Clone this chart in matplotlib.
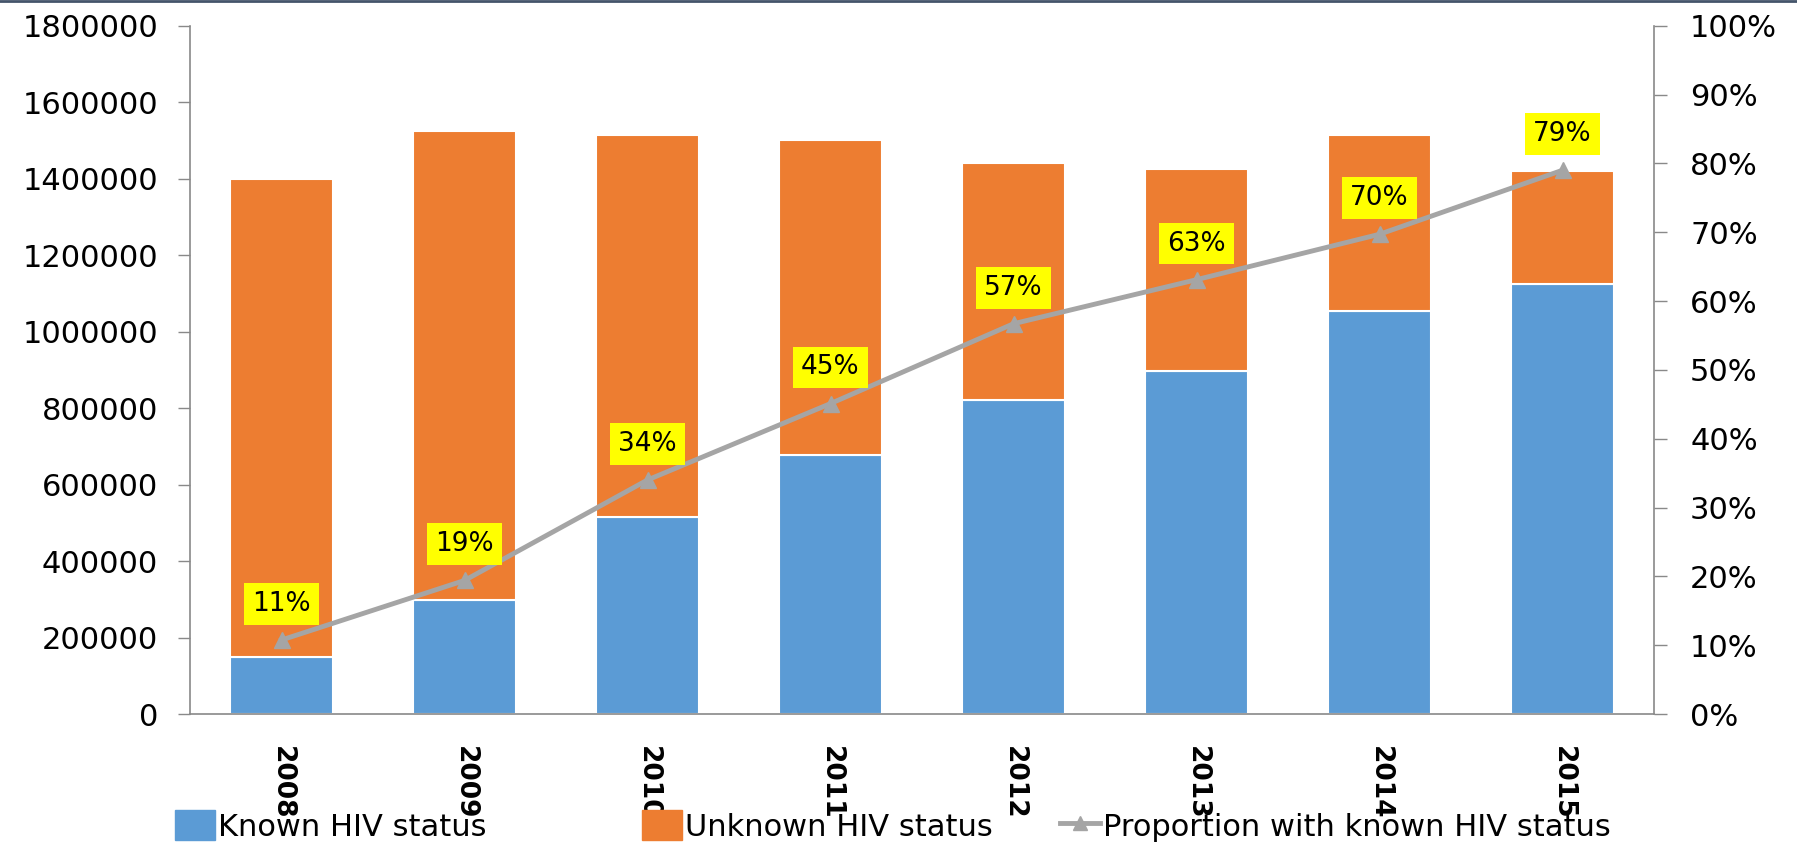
import matplotlib
matplotlib.use("Agg")
import matplotlib.pyplot as plt
from matplotlib.lines import Line2D
import numpy as np

years = ["2008", "2009", "2010", "2011", "2012", "2013", "2014", "2015"]
known = [150000, 297000, 515000, 677000, 820000, 898000, 1055000, 1124000]
unknown = [1250000, 1228000, 1000000, 823000, 621000, 527000, 460000, 296000]
proportion = [0.1075, 0.194, 0.34, 0.451, 0.567, 0.631, 0.697, 0.79]
prop_labels = ["11%", "19%", "34%", "45%", "57%", "63%", "70%", "79%"]

BLUE = "#5B9BD5"
ORANGE = "#ED7D31"
GRAY = "#A5A5A5"
AXC = "#898989"

plt.rcParams['font.family'] = ['DejaVu Sans']

W, H = 1797, 846
fig = plt.figure(figsize=(W / 100, H / 100), dpi=100)
ax = fig.add_axes([190 / W, 1 - 714 / H, (1654 - 190) / W, (714 - 25.7) / H])

x = np.arange(len(years))
ax.bar(x, known, width=0.56, color=BLUE, edgecolor="white", linewidth=1.5,
       label="Known HIV status", zorder=2)
ax.bar(x, unknown, width=0.56, bottom=known, color=ORANGE, edgecolor="white",
       linewidth=1.5, label="Unknown HIV status", zorder=2)

ax.set_xlim(-0.5, len(years) - 0.5)
ax.set_ylim(0, 1800000)
ax.set_yticks(np.arange(0, 1800001, 200000))
ax.set_yticklabels([str(v) for v in range(0, 1800001, 200000)])
ax.set_xticks(x)
ax.set_xticklabels(years, rotation=-90, fontsize=19, fontweight="bold",
                   va="top", ha="center")
ax.tick_params(axis="x", length=0, pad=23)
ax.tick_params(axis="y", length=9, width=1, color=AXC, labelsize=22, pad=14,
               direction="out")
for s in ["top", "right"]:
    ax.spines[s].set_visible(False)
for s in ["left", "bottom"]:
    ax.spines[s].set_color(AXC)
    ax.spines[s].set_linewidth(1.2)

ax2 = ax.twinx()
ax2.plot(x, proportion, color=GRAY, linewidth=3.5, marker="^", markersize=12,
         label="Proportion with known HIV status", zorder=3)
ax2.set_ylim(0, 1.0)
ax2.set_yticks(np.arange(0, 1.01, 0.1))
ax2.set_yticklabels([f"{int(round(v*100))}%" for v in np.arange(0, 1.01, 0.1)])
ax2.tick_params(axis="y", length=9, width=1, color=AXC, labelsize=22, pad=17,
                direction="out")
for s in ["top", "left", "bottom"]:
    ax2.spines[s].set_visible(False)
ax2.spines["right"].set_color(AXC)
ax2.spines["right"].set_linewidth(1.2)

for xi, p, lab in zip(x, proportion, prop_labels):
    ax2.annotate(lab, (xi, p), xytext=(0, 26), textcoords="offset points",
                 ha="center", va="center", fontsize=19,
                 bbox=dict(boxstyle="square,pad=0.3", facecolor="#FFFF00",
                           edgecolor="none"))

handles = [
    plt.Rectangle((0, 0), 1, 1, color=BLUE),
    plt.Rectangle((0, 0), 1, 1, color=ORANGE),
    Line2D([0], [0], color=GRAY, linewidth=3.5, marker="^", markersize=10),
]
labels = ["Known HIV status", "Unknown HIV status",
          "Proportion with known HIV status"]
left_px = [175, 642, 1060]
for h, lab, lx in zip(handles, labels, left_px):
    fig.legend([h], [lab], loc="center left",
               bbox_to_anchor=(lx / W, 1 - 826 / H),
               frameon=False, fontsize=22, handlelength=1.3,
               handleheight=1.1, handletextpad=0.1,
               borderpad=0, borderaxespad=0)

fig.add_artist(Line2D([0, 1], [0.999, 0.999], color="#44546A", linewidth=2,
                      transform=fig.transFigure))

fig.savefig("out.png", dpi=100)
